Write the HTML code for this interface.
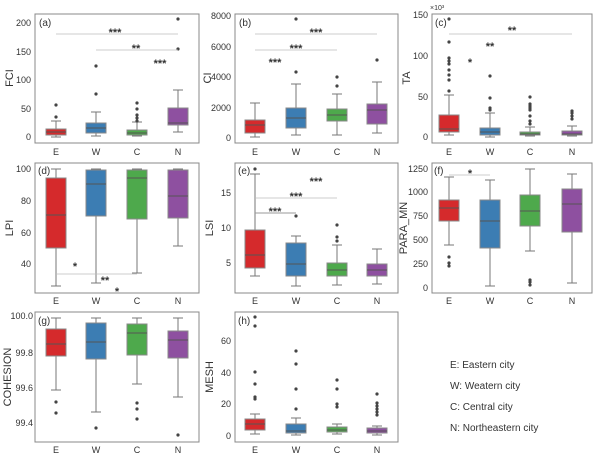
<!DOCTYPE html>
<html><head><meta charset="utf-8"><style>
html,body{margin:0;padding:0;background:#fff}
svg{display:block}
text{font-family:"Liberation Sans",sans-serif;fill:#333}
.t{font-size:9px;text-anchor:end}
.x{font-size:9px;text-anchor:middle}
.yl{font-size:11px;text-anchor:middle}
.pl{font-size:10px}
.s{font-size:11px;text-anchor:middle;font-weight:bold}
.fr{fill:none;stroke:#888;stroke-width:1}
.w{stroke:#777;stroke-width:1}
.sg{stroke:#bbb;stroke-width:0.8}
.o{fill:#444}
.R{fill:#d52a2c;stroke:#888}.B{fill:#3c7db3;stroke:#888}.G{fill:#4ea94c;stroke:#888}.P{fill:#8e50a0;stroke:#888}
.m{stroke:#555;stroke-width:1}
</style></head><body>
<svg width="600" height="455" viewBox="0 0 600 455" xmlns="http://www.w3.org/2000/svg">

<!-- ===== Panel a ===== -->
<rect class="fr" x="35" y="14" width="164" height="129"/>
<text class="t" x="31" y="26">200</text><text class="t" x="31" y="55">150</text><text class="t" x="31" y="83">100</text><text class="t" x="31" y="112">50</text><text class="t" x="31" y="140">0</text>
<text class="yl" transform="translate(13,78) rotate(-90)">FCI</text>
<text class="pl" x="39" y="26">(a)</text>
<g>
<line class="w" x1="56" y1="121" x2="56" y2="137"/><line class="w" x1="51" y1="121" x2="61" y2="121"/><line class="w" x1="51" y1="137" x2="61" y2="137"/>
<rect class="R" x="46" y="129" width="20" height="6"/><line class="m" x1="46" y1="132" x2="66" y2="132"/>
<circle class="o" cx="56" cy="117" r="1.6"/><circle class="o" cx="56" cy="105" r="1.6"/>
<line class="w" x1="96" y1="112" x2="96" y2="136"/><line class="w" x1="91" y1="112" x2="101" y2="112"/><line class="w" x1="91" y1="136" x2="101" y2="136"/>
<rect class="B" x="86" y="123" width="20" height="10"/><line class="m" x1="86" y1="128" x2="106" y2="128"/>
<circle class="o" cx="96" cy="94" r="1.6"/><circle class="o" cx="96" cy="66" r="1.6"/>
<line class="w" x1="137" y1="122" x2="137" y2="136"/><line class="w" x1="132" y1="122" x2="142" y2="122"/><line class="w" x1="132" y1="136" x2="142" y2="136"/>
<rect class="G" x="127" y="130" width="20" height="5"/><line class="m" x1="127" y1="133" x2="147" y2="133"/>
<circle class="o" cx="137" cy="103" r="1.6"/><circle class="o" cx="137" cy="109" r="1.6"/><circle class="o" cx="137" cy="115" r="1.6"/><circle class="o" cx="137" cy="118" r="1.6"/><circle class="o" cx="137" cy="121" r="1.6"/>
<line class="w" x1="178" y1="90" x2="178" y2="132"/><line class="w" x1="173" y1="90" x2="183" y2="90"/><line class="w" x1="173" y1="132" x2="183" y2="132"/>
<rect class="P" x="168" y="108" width="20" height="17"/><line class="m" x1="168" y1="123" x2="188" y2="123"/>
<circle class="o" cx="178" cy="49" r="1.6"/><circle class="o" cx="178" cy="19" r="1.6"/>
<line class="sg" x1="56" y1="34" x2="178" y2="34"/><text class="s" x="115" y="36">***</text>
<line class="sg" x1="96" y1="50" x2="178" y2="50"/><text class="s" x="136" y="52">**</text>
<text class="s" x="160" y="67">***</text>
</g>
<text class="x" x="56" y="155">E</text><text class="x" x="96" y="155">W</text><text class="x" x="137" y="155">C</text><text class="x" x="178" y="155">N</text>

<!-- ===== Panel b ===== -->
<rect class="fr" x="235" y="14" width="163" height="129"/>
<text class="t" x="231" y="19">8000</text><text class="t" x="231" y="50">6000</text><text class="t" x="231" y="80">4000</text><text class="t" x="231" y="111">2000</text><text class="t" x="231" y="141">0</text>
<text class="yl" transform="translate(211,78) rotate(-90)">CI</text>
<text class="pl" x="239" y="26">(b)</text>
<line class="w" x1="255" y1="103" x2="255" y2="137"/><line class="w" x1="250" y1="103" x2="260" y2="103"/><line class="w" x1="250" y1="137" x2="260" y2="137"/>
<rect class="R" x="245" y="120" width="20" height="13"/><line class="m" x1="245" y1="125" x2="265" y2="125"/>
<line class="w" x1="296" y1="84" x2="296" y2="135"/><line class="w" x1="291" y1="84" x2="301" y2="84"/><line class="w" x1="291" y1="135" x2="301" y2="135"/>
<rect class="B" x="286" y="108" width="20" height="20"/><line class="m" x1="286" y1="118" x2="306" y2="118"/>
<circle class="o" cx="296" cy="72" r="1.6"/><circle class="o" cx="296" cy="19" r="1.6"/>
<line class="w" x1="337" y1="94" x2="337" y2="135"/><line class="w" x1="332" y1="94" x2="342" y2="94"/><line class="w" x1="332" y1="135" x2="342" y2="135"/>
<rect class="G" x="327" y="109" width="20" height="12"/><line class="m" x1="327" y1="115" x2="347" y2="115"/>
<circle class="o" cx="337" cy="86" r="1.6"/><circle class="o" cx="337" cy="77" r="1.6"/>
<line class="w" x1="377" y1="82" x2="377" y2="133"/><line class="w" x1="372" y1="82" x2="382" y2="82"/><line class="w" x1="372" y1="133" x2="382" y2="133"/>
<rect class="P" x="367" y="104" width="20" height="20"/><line class="m" x1="367" y1="110" x2="387" y2="110"/>
<circle class="o" cx="377" cy="60" r="1.6"/>
<line class="sg" x1="255" y1="34" x2="377" y2="34"/><text class="s" x="316" y="36">***</text>
<line class="sg" x1="255" y1="50" x2="337" y2="50"/><text class="s" x="296" y="52">***</text>
<text class="s" x="275" y="66">***</text>
<text class="x" x="255" y="155">E</text><text class="x" x="296" y="155">W</text><text class="x" x="337" y="155">C</text><text class="x" x="377" y="155">N</text>

<!-- ===== Panel c ===== -->
<rect class="fr" x="432" y="14" width="160" height="129"/>
<text class="t" x="428" y="18">150</text><text class="t" x="428" y="59">100</text><text class="t" x="428" y="100">50</text><text class="t" x="428" y="140">0</text>
<text style="font-size:7px" x="430" y="10">×10³</text>
<text class="yl" transform="translate(410,78) rotate(-90)">TA</text>
<text class="pl" x="435" y="26">(c)</text>
<line class="w" x1="449" y1="95" x2="449" y2="135"/><line class="w" x1="444" y1="95" x2="454" y2="95"/><line class="w" x1="444" y1="135" x2="454" y2="135"/>
<rect class="R" x="439" y="115" width="20" height="17"/><line class="m" x1="439" y1="129" x2="459" y2="129"/>
<circle class="o" cx="449" cy="19" r="1.6"/><circle class="o" cx="449" cy="42" r="1.6"/><circle class="o" cx="449" cy="58" r="1.6"/><circle class="o" cx="449" cy="61" r="1.6"/><circle class="o" cx="449" cy="64" r="1.6"/><circle class="o" cx="449" cy="70" r="1.6"/><circle class="o" cx="449" cy="75" r="1.6"/><circle class="o" cx="449" cy="80" r="1.6"/><circle class="o" cx="449" cy="91" r="1.6"/>
<line class="w" x1="490" y1="113" x2="490" y2="137"/><line class="w" x1="485" y1="113" x2="495" y2="113"/><line class="w" x1="485" y1="137" x2="495" y2="137"/>
<rect class="B" x="480" y="128" width="20" height="7"/><line class="m" x1="480" y1="132" x2="500" y2="132"/>
<circle class="o" cx="490" cy="76" r="1.6"/><circle class="o" cx="490" cy="98" r="1.6"/><circle class="o" cx="490" cy="108" r="1.6"/><circle class="o" cx="490" cy="110" r="1.6"/>
<line class="w" x1="530" y1="127" x2="530" y2="136"/><line class="w" x1="525" y1="127" x2="535" y2="127"/><line class="w" x1="525" y1="136" x2="535" y2="136"/>
<rect class="G" x="520" y="132" width="20" height="3"/><line class="m" x1="520" y1="134" x2="540" y2="134"/>
<circle class="o" cx="530" cy="97" r="1.6"/><circle class="o" cx="530" cy="104" r="1.6"/><circle class="o" cx="530" cy="106" r="1.6"/><circle class="o" cx="530" cy="108" r="1.6"/><circle class="o" cx="530" cy="110" r="1.6"/><circle class="o" cx="530" cy="116" r="1.6"/><circle class="o" cx="530" cy="121" r="1.6"/><circle class="o" cx="530" cy="124" r="1.6"/>
<line class="w" x1="572" y1="126" x2="572" y2="136"/><line class="w" x1="567" y1="126" x2="577" y2="126"/><line class="w" x1="567" y1="136" x2="577" y2="136"/>
<rect class="P" x="562" y="131" width="20" height="4"/><line class="m" x1="562" y1="134" x2="582" y2="134"/>
<circle class="o" cx="572" cy="111" r="1.6"/><circle class="o" cx="572" cy="113" r="1.6"/><circle class="o" cx="572" cy="116" r="1.6"/><circle class="o" cx="572" cy="119" r="1.6"/>
<line class="sg" x1="449" y1="34" x2="572" y2="34"/><text class="s" x="512" y="34">**</text>
<text class="s" x="490" y="50">**</text>
<text class="s" x="470" y="66">*</text>
<text class="x" x="449" y="155">E</text><text class="x" x="490" y="155">W</text><text class="x" x="530" y="155">C</text><text class="x" x="572" y="155">N</text>

<!-- ===== Panel d ===== -->
<rect class="fr" x="35" y="163" width="164" height="130"/>
<text class="t" x="31" y="172">100</text><text class="t" x="31" y="204">80</text><text class="t" x="31" y="236">60</text><text class="t" x="31" y="267">40</text>
<text class="yl" transform="translate(13,228) rotate(-90)">LPI</text>
<text class="pl" x="38" y="174">(d)</text>
<line class="w" x1="56" y1="169" x2="56" y2="286"/><line class="w" x1="51" y1="169" x2="61" y2="169"/><line class="w" x1="51" y1="286" x2="61" y2="286"/>
<rect class="R" x="46" y="178" width="20" height="70"/><line class="m" x1="46" y1="215" x2="66" y2="215"/>
<line class="w" x1="96" y1="169" x2="96" y2="283"/><line class="w" x1="91" y1="169" x2="101" y2="169"/><line class="w" x1="91" y1="283" x2="101" y2="283"/>
<rect class="B" x="86" y="170" width="20" height="46"/><line class="m" x1="86" y1="184" x2="106" y2="184"/>
<line class="w" x1="137" y1="169" x2="137" y2="273"/><line class="w" x1="132" y1="169" x2="142" y2="169"/><line class="w" x1="132" y1="273" x2="142" y2="273"/>
<rect class="G" x="127" y="170" width="20" height="49"/><line class="m" x1="127" y1="178" x2="147" y2="178"/>
<line class="w" x1="178" y1="169" x2="178" y2="246"/><line class="w" x1="173" y1="169" x2="183" y2="169"/><line class="w" x1="173" y1="246" x2="183" y2="246"/>
<rect class="P" x="168" y="170" width="20" height="48"/><line class="m" x1="168" y1="196" x2="188" y2="196"/>
<text class="s" x="75" y="270">*</text>
<line class="sg" x1="56" y1="274" x2="137" y2="274"/><text class="s" x="105" y="284">**</text>
<text class="s" x="117" y="295">*</text>
<text class="x" x="56" y="304">E</text><text class="x" x="96" y="304">W</text><text class="x" x="137" y="304">C</text><text class="x" x="178" y="304">N</text>

<!-- ===== Panel e ===== -->
<rect class="fr" x="235" y="163" width="163" height="130"/>
<text class="t" x="231" y="196">15</text><text class="t" x="231" y="231">10</text><text class="t" x="231" y="266">5</text>
<text class="yl" transform="translate(213,228) rotate(-90)">LSI</text>
<text class="pl" x="238" y="174">(e)</text>
<line class="w" x1="255" y1="174" x2="255" y2="276"/><line class="w" x1="250" y1="174" x2="260" y2="174"/><line class="w" x1="250" y1="276" x2="260" y2="276"/>
<rect class="R" x="245" y="230" width="20" height="38"/><line class="m" x1="245" y1="255" x2="265" y2="255"/>
<circle class="o" cx="255" cy="169" r="1.6"/>
<line class="w" x1="296" y1="236" x2="296" y2="286"/><line class="w" x1="291" y1="236" x2="301" y2="236"/><line class="w" x1="291" y1="286" x2="301" y2="286"/>
<rect class="B" x="286" y="243" width="20" height="33"/><line class="m" x1="286" y1="264" x2="306" y2="264"/>
<circle class="o" cx="296" cy="216" r="1.6"/>
<line class="w" x1="337" y1="245" x2="337" y2="285"/><line class="w" x1="332" y1="245" x2="342" y2="245"/><line class="w" x1="332" y1="285" x2="342" y2="285"/>
<rect class="G" x="327" y="263" width="20" height="13"/><line class="m" x1="327" y1="270" x2="347" y2="270"/>
<circle class="o" cx="337" cy="225" r="1.6"/><circle class="o" cx="337" cy="237" r="1.6"/><circle class="o" cx="337" cy="241" r="1.6"/>
<line class="w" x1="377" y1="249" x2="377" y2="284"/><line class="w" x1="372" y1="249" x2="382" y2="249"/><line class="w" x1="372" y1="284" x2="382" y2="284"/>
<rect class="P" x="367" y="264" width="20" height="12"/><line class="m" x1="367" y1="270" x2="387" y2="270"/>
<line x1="255" y1="213" x2="296" y2="213" stroke="#999" stroke-width="1"/><text class="s" x="275" y="215">***</text>
<line class="sg" x1="255" y1="198" x2="337" y2="198"/><text class="s" x="296" y="200">***</text>
<text class="s" x="316" y="185">***</text>
<text class="x" x="255" y="304">E</text><text class="x" x="296" y="304">W</text><text class="x" x="337" y="304">C</text><text class="x" x="377" y="304">N</text>

<!-- ===== Panel f ===== -->
<rect class="fr" x="432" y="163" width="160" height="130"/>
<text class="t" x="428" y="172">1250</text><text class="t" x="428" y="195">1000</text><text class="t" x="428" y="219">750</text><text class="t" x="428" y="243">500</text><text class="t" x="428" y="267">250</text><text class="t" x="428" y="291">0</text>
<text class="yl" transform="translate(407,228) rotate(-90)">PARA_MN</text>
<text class="pl" x="434" y="174">(f)</text>
<line class="w" x1="449" y1="177" x2="449" y2="245"/><line class="w" x1="444" y1="177" x2="454" y2="177"/><line class="w" x1="444" y1="245" x2="454" y2="245"/>
<rect class="R" x="439" y="200" width="20" height="21"/><line class="m" x1="439" y1="208" x2="459" y2="208"/>
<circle class="o" cx="449" cy="257" r="1.6"/><circle class="o" cx="449" cy="263" r="1.6"/><circle class="o" cx="449" cy="266" r="1.6"/>
<line class="w" x1="490" y1="180" x2="490" y2="286"/><line class="w" x1="485" y1="180" x2="495" y2="180"/><line class="w" x1="485" y1="286" x2="495" y2="286"/>
<rect class="B" x="480" y="200" width="20" height="48"/><line class="m" x1="480" y1="221" x2="500" y2="221"/>
<line class="w" x1="530" y1="169" x2="530" y2="251"/><line class="w" x1="525" y1="169" x2="535" y2="169"/><line class="w" x1="525" y1="251" x2="535" y2="251"/>
<rect class="G" x="520" y="195" width="20" height="31"/><line class="m" x1="520" y1="211" x2="540" y2="211"/>
<circle class="o" cx="530" cy="280" r="1.6"/><circle class="o" cx="530" cy="282" r="1.6"/><circle class="o" cx="530" cy="285" r="1.6"/>
<line class="w" x1="572" y1="174" x2="572" y2="283"/><line class="w" x1="567" y1="174" x2="577" y2="174"/><line class="w" x1="567" y1="283" x2="577" y2="283"/>
<rect class="P" x="562" y="189" width="20" height="43"/><line class="m" x1="562" y1="204" x2="582" y2="204"/>
<line class="sg" x1="449" y1="175" x2="490" y2="175"/><text class="s" x="470" y="177">*</text>
<text class="x" x="449" y="304">E</text><text class="x" x="490" y="304">W</text><text class="x" x="530" y="304">C</text><text class="x" x="572" y="304">N</text>

<!-- ===== Panel g ===== -->
<rect class="fr" x="35" y="312" width="164" height="130"/>
<text class="t" x="33" y="319">100.0</text><text class="t" x="33" y="356">99.8</text><text class="t" x="33" y="391">99.6</text><text class="t" x="33" y="426">99.4</text>
<text class="yl" transform="translate(11,377) rotate(-90)">COHESION</text>
<text class="pl" x="38" y="324">(g)</text>
<line class="w" x1="56" y1="318" x2="56" y2="390"/><line class="w" x1="51" y1="318" x2="61" y2="318"/><line class="w" x1="51" y1="390" x2="61" y2="390"/>
<rect class="R" x="46" y="329" width="20" height="27"/><line class="m" x1="46" y1="344" x2="66" y2="344"/>
<circle class="o" cx="56" cy="402" r="1.6"/><circle class="o" cx="56" cy="413" r="1.6"/>
<line class="w" x1="96" y1="318" x2="96" y2="412"/><line class="w" x1="91" y1="318" x2="101" y2="318"/><line class="w" x1="91" y1="412" x2="101" y2="412"/>
<rect class="B" x="86" y="323" width="20" height="36"/><line class="m" x1="86" y1="342" x2="106" y2="342"/>
<circle class="o" cx="96" cy="428" r="1.6"/>
<line class="w" x1="137" y1="318" x2="137" y2="384"/><line class="w" x1="132" y1="318" x2="142" y2="318"/><line class="w" x1="132" y1="384" x2="142" y2="384"/>
<rect class="G" x="127" y="324" width="20" height="31"/><line class="m" x1="127" y1="333" x2="147" y2="333"/>
<circle class="o" cx="137" cy="403" r="1.6"/><circle class="o" cx="137" cy="409" r="1.6"/><circle class="o" cx="137" cy="419" r="1.6"/>
<line class="w" x1="178" y1="318" x2="178" y2="397"/><line class="w" x1="173" y1="318" x2="183" y2="318"/><line class="w" x1="173" y1="397" x2="183" y2="397"/>
<rect class="P" x="168" y="331" width="20" height="27"/><line class="m" x1="168" y1="340" x2="188" y2="340"/>
<circle class="o" cx="178" cy="435" r="1.6"/>
<text class="x" x="56" y="453">E</text><text class="x" x="96" y="453">W</text><text class="x" x="137" y="453">C</text><text class="x" x="178" y="453">N</text>

<!-- ===== Panel h ===== -->
<rect class="fr" x="235" y="312" width="163" height="130"/>
<text class="t" x="231" y="344">60</text><text class="t" x="231" y="376">40</text><text class="t" x="231" y="407">20</text><text class="t" x="231" y="439">0</text>
<text class="yl" transform="translate(213,377) rotate(-90)">MESH</text>
<text class="pl" x="238" y="324">(h)</text>
<line class="w" x1="255" y1="414" x2="255" y2="434"/><line class="w" x1="250" y1="414" x2="260" y2="414"/><line class="w" x1="250" y1="434" x2="260" y2="434"/>
<rect class="R" x="245" y="419" width="20" height="11"/><line class="m" x1="245" y1="424" x2="265" y2="424"/>
<circle class="o" cx="255" cy="397" r="1.6"/><circle class="o" cx="255" cy="399" r="1.6"/><circle class="o" cx="255" cy="384" r="1.6"/><circle class="o" cx="255" cy="372" r="1.6"/><circle class="o" cx="255" cy="326" r="1.6"/><circle class="o" cx="255" cy="317" r="1.6"/>
<line class="w" x1="296" y1="418" x2="296" y2="435"/><line class="w" x1="291" y1="418" x2="301" y2="418"/><line class="w" x1="291" y1="435" x2="301" y2="435"/>
<rect class="B" x="286" y="424" width="20" height="9"/><line class="m" x1="286" y1="431" x2="306" y2="431"/>
<circle class="o" cx="296" cy="409" r="1.6"/><circle class="o" cx="296" cy="389" r="1.6"/><circle class="o" cx="296" cy="364" r="1.6"/><circle class="o" cx="296" cy="351" r="1.6"/>
<line class="w" x1="337" y1="424" x2="337" y2="434"/><line class="w" x1="332" y1="424" x2="342" y2="424"/><line class="w" x1="332" y1="434" x2="342" y2="434"/>
<rect class="G" x="327" y="427" width="20" height="5"/><line class="m" x1="327" y1="430" x2="347" y2="430"/>
<circle class="o" cx="337" cy="404" r="1.6"/><circle class="o" cx="337" cy="407" r="1.6"/><circle class="o" cx="337" cy="389" r="1.6"/><circle class="o" cx="337" cy="380" r="1.6"/>
<line class="w" x1="377" y1="426" x2="377" y2="435"/><line class="w" x1="372" y1="426" x2="382" y2="426"/><line class="w" x1="372" y1="435" x2="382" y2="435"/>
<rect class="P" x="367" y="428" width="20" height="5"/><line class="m" x1="367" y1="431" x2="387" y2="431"/>
<circle class="o" cx="377" cy="403" r="1.6"/><circle class="o" cx="377" cy="406" r="1.6"/><circle class="o" cx="377" cy="409" r="1.6"/><circle class="o" cx="377" cy="412" r="1.6"/><circle class="o" cx="377" cy="415" r="1.6"/><circle class="o" cx="377" cy="394" r="1.6"/>
<text class="x" x="255" y="453">E</text><text class="x" x="296" y="453">W</text><text class="x" x="337" y="453">C</text><text class="x" x="377" y="453">N</text>

<!-- Legend -->
<text style="font-size:10px" x="450" y="368">E: Eastern city</text>
<text style="font-size:10px" x="450" y="389">W: Weatern city</text>
<text style="font-size:10px" x="450" y="410">C: Central city</text>
<text style="font-size:10px" x="450" y="431">N: Northeastern city</text>
</svg>
</body></html>
